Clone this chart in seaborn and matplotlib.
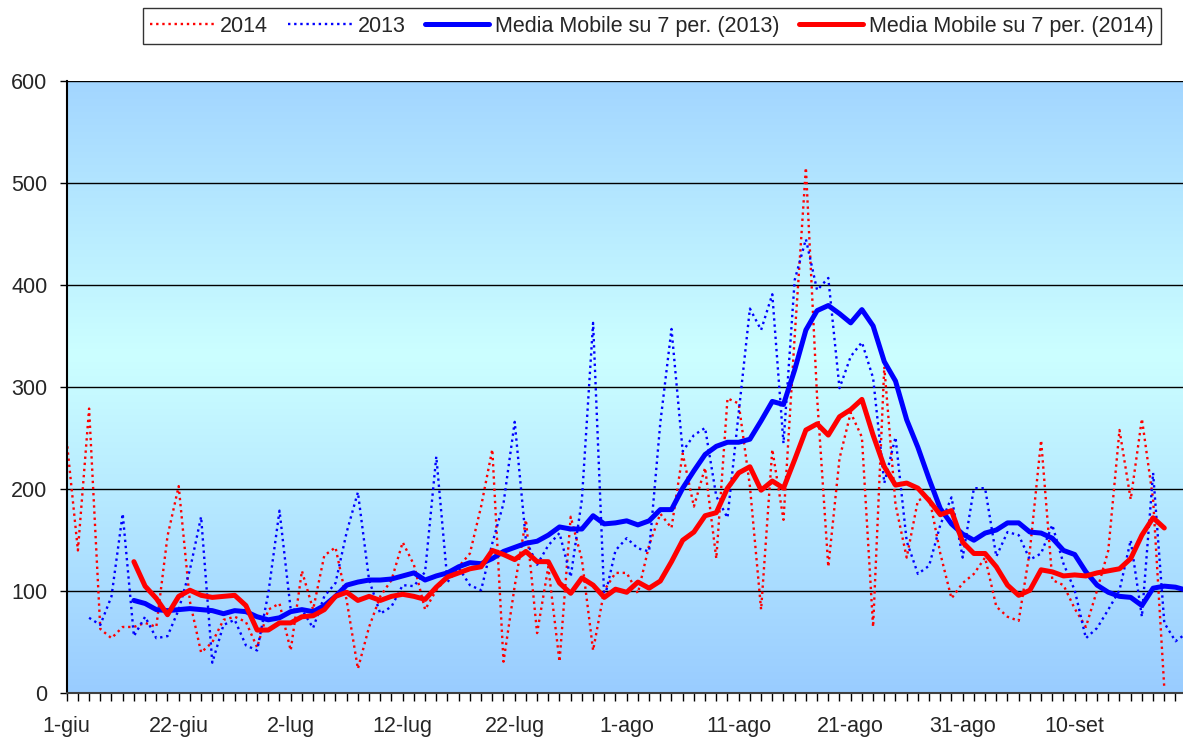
import numpy as np
import pandas as pd
import seaborn as sns
import matplotlib.pyplot as plt

# categorie (una ogni giorno di rilevazione), etichette ogni 10
n_giorni = 101
etichette_pos = [0, 10, 20, 30, 40, 50, 60, 70, 80, 90]
etichette = ["1-giu", "22-giu", "2-lug", "12-lug", "22-lug",
             "1-ago", "11-ago", "21-ago", "31-ago", "10-set"]

# serie 2014 (dal giorno 0 al 98)
valori_2014 = [248, 140, 279, 63, 54, 65, 65, 69, 65, 154, 203, 90, 40, 50, 72, 75, 70, 45, 82, 88,
               42, 120, 82, 135, 143, 91, 24, 65, 95, 111, 148, 126, 82, 101, 114, 124, 137, 183, 239, 31,
               105, 170, 59, 124, 31, 173, 131, 42, 101, 118, 118, 98, 145, 176, 162, 235, 183, 221, 132, 289,
               284, 203, 82, 239, 170, 350, 515, 290, 124, 230, 275, 251, 65, 320, 185, 133, 189, 193, 137, 93,
               108, 117, 133, 85, 75, 71, 140, 248, 111, 106, 83, 65, 101, 140, 258, 190, 269, 190, 5]

# serie 2013 (dal giorno 2 al 100)
valori_2013 = [74, 67, 95, 176, 56, 75, 54, 56, 82, 121, 173, 30, 67, 72, 47, 42, 98, 179,
               82, 82, 64, 95, 108, 158, 197, 111, 78, 85, 106, 105, 119, 232, 109, 123, 106, 101, 147, 186,
               266, 150, 126, 145, 157, 114, 190, 363, 92, 140, 152, 142, 139, 265, 357, 237, 253, 260, 193, 172,
               275, 377, 356, 391, 245, 405, 445, 395, 407, 299, 330, 344, 309, 206, 251, 149, 117, 125, 165, 192,
               133, 201, 201, 134, 158, 155, 131, 137, 165, 127, 101, 54, 64, 82, 101, 150, 75, 216, 69, 51, 59]

# media mobile 2013 (dal giorno 6 al 100)
media_2013 = [91, 88, 82, 81, 82, 83, 82, 81, 78, 81, 80, 75, 72, 74, 80, 82, 80, 86, 95, 106,
              109, 111, 111, 112, 115, 118, 111, 115, 118, 124, 128, 127, 132, 139, 143, 147, 149, 155, 163, 161,
              161, 174, 166, 167, 169, 165, 169, 180, 180, 201, 218, 234, 242, 246, 246, 249, 267, 286, 283, 317,
              356, 375, 380, 372, 363, 376, 360, 325, 306, 268, 241, 210, 181, 166, 156, 150, 157, 160, 167, 167,
              158, 157, 152, 140, 136, 119, 106, 99, 95, 94, 86, 103, 105, 104, 101]

# media mobile 2014 (dal giorno 6 al 98)
media_2014 = [129, 105, 93, 77, 95, 101, 96, 94, 95, 96, 86, 62, 62, 69, 69, 75, 76, 82, 95, 99,
              91, 95, 91, 95, 97, 95, 92, 104, 114, 118, 122, 124, 140, 136, 131, 139, 129, 129, 108, 98,
              113, 106, 94, 102, 99, 109, 103, 110, 129, 150, 158, 174, 177, 201, 216, 222, 199, 208, 201, 229,
              258, 264, 253, 271, 278, 288, 253, 222, 204, 206, 201, 189, 175, 179, 148, 137, 137, 124, 106, 96,
              101, 121, 119, 115, 116, 115, 118, 120, 122, 132, 155, 172, 162]


def colonna(valori, inizio):
    col = [np.nan] * n_giorni
    col[inizio:inizio + len(valori)] = valori
    return col


df = pd.DataFrame({
    "giorno": np.arange(n_giorni),
    "v2014": colonna(valori_2014, 0),
    "v2013": colonna(valori_2013, 2),
    "mm2013": colonna(media_2013, 6),
    "mm2014": colonna(media_2014, 6),
})

sns.set_style("white")
plt.rcParams["font.family"] = ["Liberation Sans", "DejaVu Sans"]

fig = plt.figure(figsize=(11.83, 7.39), dpi=100)
ax = fig.add_axes([66.7 / 1183, 1 - 693.3 / 739, (1183 - 66.7) / 1183, (693.3 - 81) / 739])

x_max = 99.67

# sfondo sfumato azzurro -> ciano -> azzurro
blu = np.array([153, 204, 255]) / 255
ciano = np.array([204, 255, 255]) / 255
t = np.linspace(0, 1, 300)
peso = np.clip(1 - np.abs(t - 0.55) / 0.55, 0, 1)
sfondo = blu[None, :] * (1 - peso[:, None]) + ciano[None, :] * peso[:, None]
ax.imshow(sfondo[:, None, :], extent=[0, x_max, 0, 600], origin="lower",
          aspect="auto", zorder=0)

for y in [100, 200, 300, 400, 500, 600]:
    ax.axhline(y, color="black", lw=1.0, zorder=1)

punti = (0, (1.0, 1.6))
sns.lineplot(data=df, x="giorno", y="v2014", ax=ax, color="#FF0000", lw=1.7,
             linestyle=punti, label="2014", zorder=2)
sns.lineplot(data=df, x="giorno", y="v2013", ax=ax, color="#0000FF", lw=1.7,
             linestyle=punti, label="2013", zorder=2)
sns.lineplot(data=df, x="giorno", y="mm2013", ax=ax, color="#0000FF", lw=3.6,
             label="Media Mobile su 7 per. (2013)", zorder=3)
sns.lineplot(data=df, x="giorno", y="mm2014", ax=ax, color="#FF0000", lw=3.6,
             label="Media Mobile su 7 per. (2014)", zorder=4)

ax.set_xlim(0, x_max)
ax.set_ylim(0, 600)
ax.set_xlabel("")
ax.set_ylabel("")

ax.set_yticks(range(0, 601, 100))
ax.set_xticks(range(0, 100))
ax.set_xticklabels([etichette[etichette_pos.index(i)] if i in etichette_pos else ""
                    for i in range(0, 100)])
ax.tick_params(axis="x", direction="out", length=6, width=1, color="black",
               labelsize=15.5, pad=10, bottom=True)
ax.tick_params(axis="y", direction="out", length=5, width=1, color="black",
               labelsize=15.5, pad=9, left=True)

for lato in ["top", "right"]:
    ax.spines[lato].set_visible(False)
ax.spines["left"].set_color("black")
ax.spines["left"].set_linewidth(1.5)
ax.spines["bottom"].set_color("#404040")
ax.spines["bottom"].set_linewidth(1.5)

handles, labels = ax.get_legend_handles_labels()
ax.get_legend().remove()
leg = fig.legend(handles, labels, loc="upper center", bbox_to_anchor=(0.551, 0.989),
                 ncol=4, frameon=True, fancybox=False, edgecolor="black",
                 fontsize=15.5, handlelength=3.0, handletextpad=0.25,
                 columnspacing=0.9, borderpad=0.35, borderaxespad=0)
leg.get_frame().set_linewidth(1.0)

fig.savefig("out.png", dpi=100, facecolor="white")
